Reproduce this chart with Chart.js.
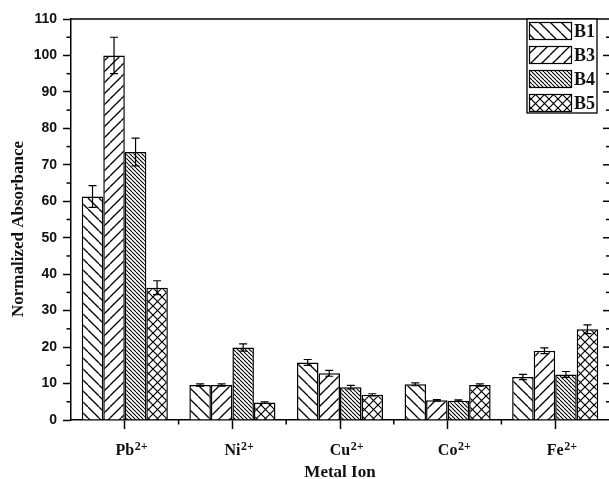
<!DOCTYPE html>
<html>
<head>
<meta charset="utf-8">
<script src="https://cdn.jsdelivr.net/npm/chart.js@4.4.1/dist/chart.umd.min.js"></script>
<style>
  html, body { margin: 0; padding: 0; background: #fff; }
  #wrap { width: 609px; height: 479px; }
</style>
</head>
<body>
<div id="wrap"><canvas id="c" width="609" height="479"></canvas></div>
<script>
// ---- data ----
const categories = ['Pb', 'Ni', 'Cu', 'Co', 'Fe'];
const chargeLabel = '2+';
const seriesNames = ['B1', 'B3', 'B4', 'B5'];
const b1 = [61.3, 9.6, 15.8, 9.8, 11.8];
const b3 = [100.0, 9.6, 12.8, 5.4, 19.0];
const b4 = [73.5, 19.9, 9.0, 5.3, 12.5];
const b5 = [36.3, 4.8, 6.9, 9.6, 24.9];
const b1Err = [3.0, 0.3, 0.8, 0.4, 0.7];
const b3Err = [5.0, 0.3, 0.8, 0.2, 0.8];
const b4Err = [3.8, 1.0, 0.5, 0.2, 0.8];
const b5Err = [1.9, 0.2, 0.3, 0.3, 1.2];
const yMin = 0, yMax = 110, yStep = 10;
const xTitle = 'Metal Ion';
const yTitle = 'Normalized Absorbance';

// ---- hatch patterns ----
function hatch(s, dirs, lw) {
  const c = document.createElement('canvas');
  c.width = s; c.height = s;
  const g = c.getContext('2d');
  g.fillStyle = '#fff'; g.fillRect(0, 0, s, s);
  g.strokeStyle = '#000'; g.lineWidth = lw;
  dirs.forEach(d => {
    for (let k = -1; k <= 1; k++) {
      g.beginPath();
      if (d === '\\') { g.moveTo(k * s, 0); g.lineTo(k * s + s, s); }
      else { g.moveTo(k * s, s); g.lineTo(k * s + s, 0); }
      g.stroke();
    }
  });
  return g.createPattern(c, 'repeat');
}
const ctx = document.getElementById('c').getContext('2d');
const patterns = [
  hatch(11, ['\\'], 1.3),
  hatch(11, ['/'], 1.3),
  hatch(4, ['\\'], 1.1),
  hatch(9, ['\\', '/'], 1.2)
];
const values = [b1, b3, b4, b5];
const errors = [b1Err, b3Err, b4Err, b5Err];

const serif = '"Liberation Serif", "Times New Roman", serif';
const sans = '"Liberation Sans", Arial, sans-serif';

const errorBars = {
  id: 'errorBars',
  afterDatasetsDraw(chart) {
    const c = chart.ctx, ys = chart.scales.y;
    c.save();
    c.strokeStyle = '#000'; c.lineWidth = 1.2;
    chart.data.datasets.forEach((ds, i) => {
      const meta = chart.getDatasetMeta(i);
      meta.data.forEach((bar, j) => {
        const v = ds.data[j], e = errors[i][j];
        const yt = ys.getPixelForValue(v + e), yb = ys.getPixelForValue(v - e);
        const x = bar.x;
        c.beginPath();
        c.moveTo(x, yt); c.lineTo(x, yb);
        c.moveTo(x - 4, yt); c.lineTo(x + 4, yt);
        c.moveTo(x - 4, yb); c.lineTo(x + 4, yb);
        c.stroke();
      });
    });
    c.restore();
  }
};

const extras = {
  id: 'extras',
  afterDraw(chart) {
    const c = chart.ctx, a = chart.chartArea, ys = chart.scales.y, xs = chart.scales.x;
    c.save();
    c.strokeStyle = '#000'; c.lineWidth = 1.5;
    // top border
    c.beginPath(); c.moveTo(a.left, a.top); c.lineTo(a.right, a.top); c.stroke();
    // minor y ticks on left, ticks on right
    for (let v = yMin; v <= yMax; v += yStep / 2) {
      const y = ys.getPixelForValue(v);
      const major = (v % yStep) === 0;
      if (!major) { c.beginPath(); c.moveTo(a.left - 4.5, y); c.lineTo(a.left, y); c.stroke(); }
      if (v > yMin && v < yMax) {
        const len = major ? 6 : 3;
        c.beginPath(); c.moveTo(a.right - len, y); c.lineTo(a.right, y); c.stroke();
      }
    }
    // minor x ticks between categories
    for (let i = 0; i < categories.length - 1; i++) {
      const x = (xs.getPixelForTick(i) + xs.getPixelForTick(i + 1)) / 2;
      c.beginPath(); c.moveTo(x, a.bottom); c.lineTo(x, a.bottom + 4.5); c.stroke();
    }
    // superscripts on x labels
    c.fillStyle = '#111';
    categories.forEach((cat, i) => {
      c.font = 'bold 16px ' + serif;
      const w = c.measureText(cat).width;
      const x = xs.getPixelForTick(i);
      c.font = 'bold 12px ' + serif;
      c.textAlign = 'left'; c.textBaseline = 'alphabetic';
      c.fillText(chargeLabel, x + w / 2 + 0.5, 449.5);
    });
    // y title
    c.save();
    c.translate(19, 229);
    c.rotate(-Math.PI / 2);
    c.font = 'bold 17px ' + serif;
    c.textAlign = 'center'; c.textBaseline = 'middle';
    c.fillText(yTitle, 0, 0);
    c.restore();
    // legend
    const lx = 527, ly = a.top, lw = 70, lh = 94;
    c.fillStyle = '#fff';
    c.fillRect(lx, ly, lw, lh);
    c.lineWidth = 1.3;
    c.strokeRect(lx, ly, lw, lh);
    seriesNames.forEach((name, i) => {
      const cy = 31 + 24 * i;
      c.fillStyle = patterns[i];
      c.fillRect(529.5, cy - 8.5, 42, 17);
      c.lineWidth = 1.2;
      c.strokeRect(529.5, cy - 8.5, 42, 17);
      c.fillStyle = '#111';
      c.font = 'bold 18px ' + serif;
      c.textAlign = 'left'; c.textBaseline = 'alphabetic';
      c.fillText(name, 574, cy + 6);
    });
    c.restore();
  }
};

new Chart(ctx, {
  type: 'bar',
  data: {
    labels: categories,
    datasets: seriesNames.map((n, i) => ({
      label: n,
      data: values[i],
      backgroundColor: patterns[i],
      borderColor: '#000',
      borderWidth: 1.5,
      categoryPercentage: 0.8,
      barPercentage: 1.0
    }))
  },
  options: {
    responsive: false,
    animation: false,
    layout: { padding: { top: 19, right: 0, left: 0, bottom: 0 } },
    plugins: { legend: { display: false }, tooltip: { enabled: false } },
    scales: {
      x: {
        grid: { display: true, drawOnChartArea: false, drawTicks: true, tickLength: 9, tickColor: '#000', tickWidth: 1.5, offset: false },
        border: { display: true, color: '#000', width: 1.5 },
        ticks: { color: '#111', font: { family: serif, size: 16, weight: 'bold' }, padding: 12, maxRotation: 0 },
        title: { display: true, text: xTitle, color: '#111', font: { family: serif, size: 17, weight: 'bold', lineHeight: 0.8 }, padding: 0 },
        afterFit(s) { s.height = 59; }
      },
      y: {
        min: yMin, max: yMax,
        ticks: { stepSize: yStep, color: '#111', font: { family: sans, size: 14, weight: 'bold' }, padding: 6 },
        grid: { display: true, drawOnChartArea: false, drawTicks: true, tickLength: 8, tickColor: '#000', tickWidth: 1.5 },
        border: { display: true, color: '#000', width: 1.5 },
        afterFit(s) { s.width = 71; }
      }
    }
  },
  plugins: [errorBars, extras]
});
</script>
</body>
</html>
